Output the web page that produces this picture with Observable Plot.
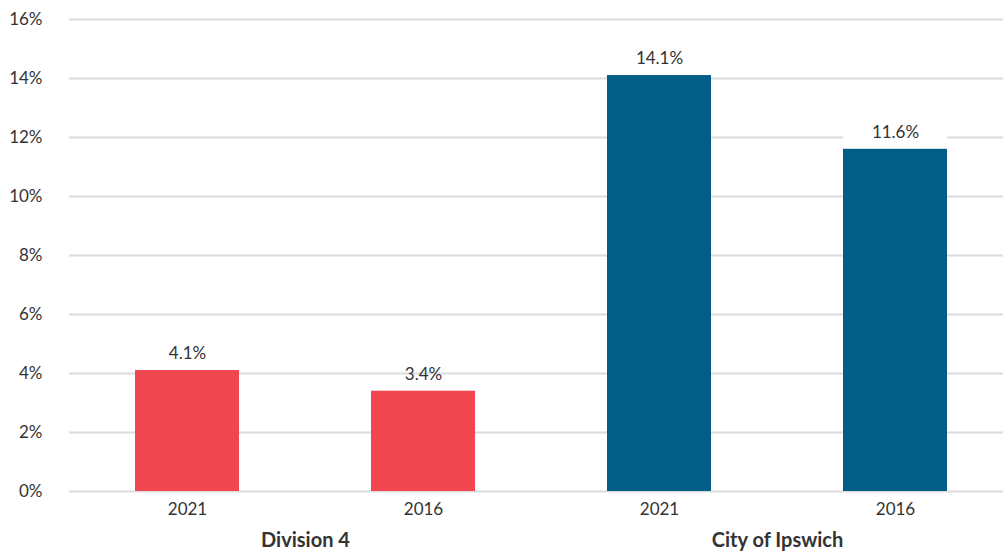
<!DOCTYPE html>
<html>
<head>
<meta charset="utf-8">
<script src="https://cdn.jsdelivr.net/npm/d3@7"></script>
<script src="https://cdn.jsdelivr.net/npm/@observablehq/plot@0.6"></script>
<style>
  html, body { margin: 0; padding: 0; background: #fff; overflow: hidden; }
  #chart svg { display: block; }
  #chart [aria-label^="fx-axis"] text { font-weight: 700; font-size: 20px; }
</style>
</head>
<body>
<div id="chart"></div>
<script>
const groups = ["Division 4", "City of Ipswich"];
const years = ["2021", "2016"];
const division4Values = [4.1, 3.4];
const ipswichValues = [14.1, 11.6];
const groupColors = ["#EF4650", "#035E87"];
const yTicks = [0, 2, 4, 6, 8, 10, 12, 14, 16];

const data = [
  ...years.map((year, i) => ({group: groups[0], year, value: division4Values[i]})),
  ...years.map((year, i) => ({group: groups[1], year, value: ipswichValues[i]}))
];

const chart = Plot.plot({
  width: 1003,
  height: 551,
  marginLeft: 68,
  marginRight: -10,
  marginTop: 19,
  marginBottom: 60,
  style: {fontFamily: "Lato, sans-serif", fontSize: "17px", color: "#333", background: "#fff"},
  fx: {domain: groups, padding: 0, axis: "bottom", tickSize: 0, tickPadding: 41, label: null},
  x: {domain: years, paddingInner: 0.56, paddingOuter: 0.28, axis: "bottom", tickSize: 0, tickPadding: 11, label: null},
  y: {domain: [0, 16], ticks: yTicks, tickSize: 0, tickPadding: 27, tickFormat: d => d + "%", label: null},
  color: {domain: groups, range: groupColors},
  marks: [
    Plot.ruleY(yTicks, {stroke: "#dcdcdc", strokeWidth: 2}),
    Plot.barY(data.filter(d => d.group === groups[1]), {fx: "group", x: "year", y1: "value", y2: "value", fill: "#fff", insetTop: -30}),
    Plot.barY(data, {fx: "group", x: "year", y: "value", fill: "group"}),
    Plot.text(data, {fx: "group", x: "year", y: "value", text: d => d.value.toFixed(1) + "%", dy: -17, fill: "#333", fontSize: 17})
  ]
});
document.getElementById("chart").appendChild(chart);
</script>
</body>
</html>
